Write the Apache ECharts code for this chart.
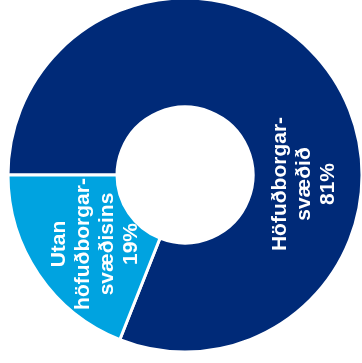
<!DOCTYPE html>
<html>
<head>
<meta charset="utf-8">
<script src="https://cdn.jsdelivr.net/npm/echarts@6/dist/echarts.min.js"></script>
<style>
  html, body { margin: 0; padding: 0; background: #fff; }
  #Map { width: 362px; height: 363px; }
</style>
</head>
<body>
<div id="Map"></div>
<script>
// gögn
var categories = ['Höfuðborgar-\nsvæðið', 'Utan\nhöfuðborgar-\nsvæðisins'];
var values = [81, 19];
var colors = ['#002a78', '#00a3e0'];

var myChart = echarts.init(document.getElementById("Map"));

var cx = 185, cy = 175;

var option = {
    animation: false,
    series : [
        {
            type: 'pie',
            center: [cx, cy],
            radius: [68, 177],
            startAngle: 180,
            clockwise: true,
            itemStyle: {
                borderColor: '#fff',
                borderWidth: 3
            },
            label: {
                show: true,
                position: 'inside',
                rotate: 90,
                color: '#fff',
                fontFamily: 'Liberation Sans, Arial, sans-serif',
                fontWeight: 'bold',
                fontSize: 21,
                lineHeight: 24,
                align: 'center',
                formatter: '{b}\n{c}%'
            },
            labelLine: { show: false },
            labelLayout: function (params) {
                if (params.dataIndex === 0) {
                    return { x: cx + 119, y: cy + 9 };
                }
                return { x: cx - 90, y: cy + 69 };
            },
            data: categories.map(function (c, i) {
                return { name: c, value: values[i], itemStyle: { color: colors[i] } };
            })
        }
    ]
};
myChart.setOption(option);
</script>
</body>
</html>
